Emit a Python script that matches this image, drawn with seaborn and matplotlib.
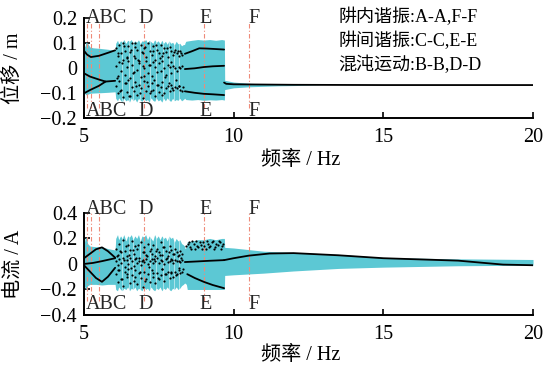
import numpy as np
import pandas as pd
import seaborn as sns
import matplotlib

matplotlib.use("Agg")
import matplotlib.pyplot as plt

# ---- marker frequencies (A..F) ----
mark_f = [5.1, 5.23, 5.5, 7.0, 9.0, 10.5]
label_txt = ["ABC", "D", "E", "F"]
label_f = [5.07, 7.06, 9.07, 10.68]
legend_lines = ["阱内谐振:A-A,F-F", "阱间谐振:C-C,E-E", "混沌运动:B-B,D-D"]

# ---- cyan envelope, displacement ----
disp_f1 = [5.0, 5.04, 5.06, 5.12, 5.2, 5.3, 5.5, 5.8, 6.03]
disp_up1 = [0.085, 0.09, 0.105, 0.1, 0.085, 0.082, 0.08, 0.076, 0.072]
disp_lo1 = [-0.1, -0.102, -0.106, -0.104, -0.1, -0.099, -0.098, -0.096, -0.094]

chaos_f = [6.04, 6.06, 6.12, 6.16, 6.22, 6.28, 6.33, 6.4, 6.46, 6.52, 6.58,
           6.64, 6.7, 6.76, 6.82, 6.88, 6.94, 7.0, 7.06, 7.12, 7.18, 7.24,
           7.3, 7.36, 7.42, 7.48, 7.54, 7.6, 7.66, 7.72, 7.78, 7.84, 7.9,
           7.96, 8.02, 8.08, 8.14, 8.2, 8.26, 8.32, 8.36]
disp_chaos_up = [0.072, 0.1, 0.112, 0.098, 0.11, 0.105, 0.115, 0.1, 0.112,
                 0.108, 0.115, 0.1, 0.11, 0.104, 0.114, 0.1, 0.11, 0.108,
                 0.115, 0.102, 0.112, 0.106, 0.1, 0.114, 0.104, 0.11, 0.098,
                 0.112, 0.1, 0.108, 0.096, 0.11, 0.1, 0.104, 0.094, 0.108,
                 0.098, 0.1, 0.09, 0.095, 0.095]
disp_chaos_lo = [-0.094, -0.12, -0.13, -0.118, -0.128, -0.135, -0.12, -0.13,
                 -0.125, -0.135, -0.118, -0.13, -0.122, -0.135, -0.12, -0.128,
                 -0.132, -0.12, -0.13, -0.125, -0.135, -0.118, -0.128, -0.132,
                 -0.12, -0.13, -0.125, -0.135, -0.12, -0.13, -0.118, -0.128,
                 -0.132, -0.12, -0.13, -0.125, -0.128, -0.12, -0.13, -0.125,
                 -0.12]

disp_f3 = [8.37, 8.4, 8.6, 8.8, 9.0, 9.2, 9.4, 9.6, 9.69]
disp_up3 = [0.1, 0.108, 0.112, 0.115, 0.113, 0.115, 0.112, 0.115, 0.113]
disp_lo3 = [-0.12, -0.125, -0.127, -0.125, -0.128, -0.126, -0.127, -0.125, -0.127]

disp_f4 = [9.7, 10.0, 10.5, 11.0, 11.5, 12.0, 12.5, 13.0, 20.0]
disp_up4 = [-0.048, -0.055, -0.06, -0.062, -0.064, -0.065, -0.066, -0.067, -0.067]
disp_lo4 = [-0.085, -0.078, -0.074, -0.072, -0.07, -0.069, -0.068, -0.067, -0.067]

# ---- cyan envelope, current ----
cur_f1 = [5.0, 5.04, 5.08, 5.12, 5.2, 5.4, 5.6, 5.8, 6.03]
cur_up1 = [0.15, 0.2, 0.21, 0.16, 0.14, 0.135, 0.135, 0.12, 0.11]
cur_lo1 = [-0.16, -0.19, -0.2, -0.17, -0.16, -0.16, -0.165, -0.16, -0.16]

cur_chaos_up = [0.11, 0.2, 0.23, 0.19, 0.22, 0.2, 0.23, 0.18, 0.22, 0.21,
                0.23, 0.19, 0.22, 0.2, 0.23, 0.18, 0.22, 0.21, 0.23, 0.19,
                0.22, 0.2, 0.18, 0.23, 0.2, 0.22, 0.19, 0.22, 0.2, 0.21,
                0.18, 0.22, 0.2, 0.21, 0.17, 0.2, 0.18, 0.19, 0.16, 0.15, 0.14]
cur_chaos_lo = [-0.16, -0.2, -0.21, -0.18, -0.2, -0.21, -0.19, -0.2, -0.18,
                -0.21, -0.19, -0.2, -0.18, -0.21, -0.19, -0.2, -0.21, -0.18,
                -0.2, -0.19, -0.21, -0.18, -0.2, -0.21, -0.19, -0.2, -0.18,
                -0.21, -0.19, -0.2, -0.18, -0.2, -0.21, -0.19, -0.2, -0.18,
                -0.2, -0.19, -0.17, -0.16, -0.15]

cur_f3 = [8.37, 8.42, 8.45, 8.6, 8.8, 9.0, 9.2, 9.4, 9.6, 9.69]
cur_up3 = [0.12, 0.13, 0.175, 0.18, 0.19, 0.19, 0.2, 0.19, 0.2, 0.2]
cur_lo3 = [-0.15, -0.16, -0.2, -0.2, -0.2, -0.2, -0.2, -0.2, -0.2, -0.2]

cur_f4 = [9.7, 10.0, 11.0, 12.0, 13.5, 15.0, 17.5, 20.0]
cur_up4 = [0.13, 0.125, 0.1, 0.09, 0.075, 0.05, 0.04, 0.035]
cur_lo4 = [-0.09, -0.085, -0.072, -0.055, -0.035, -0.025, -0.014, -0.01]

# ---- black branches ----
disp_branches = [
    ([5.0, 5.1, 5.23, 5.5, 5.8, 6.04], [0.07, 0.055, 0.045, 0.05, 0.062, 0.072]),
    ([5.0, 5.2, 5.5, 5.72, 6.04], [-0.02, -0.033, -0.045, -0.053, -0.05]),
    ([5.0, 5.2, 5.5, 5.72], [-0.1, -0.087, -0.07, -0.053]),
    ([8.37, 8.6, 8.85, 9.1, 9.4, 9.68], [0.058, 0.068, 0.08, 0.079, 0.077, 0.075]),
    ([8.37, 8.7, 9.0, 9.3, 9.68], [-0.003, 0.0, 0.005, 0.008, 0.01]),
    ([8.37, 8.7, 9.0, 9.3, 9.68], [-0.092, -0.098, -0.102, -0.104, -0.107]),
    ([9.68, 9.75, 10.0, 12.0, 15.0, 20.0], [-0.057, -0.062, -0.064, -0.066, -0.067, -0.067]),
]
cur_branches = [
    ([5.0, 5.2, 5.4, 5.6, 5.8, 6.04], [0.045, 0.08, 0.115, 0.13, 0.1, 0.05]),
    ([5.0, 5.2, 5.4, 5.6, 5.8, 6.04], [-0.01, -0.06, -0.11, -0.14, -0.1, -0.03]),
    ([5.0, 5.3, 5.6, 6.04], [0.0, 0.008, 0.022, 0.045]),
    ([8.37, 8.8, 9.2, 9.68], [0.015, 0.02, 0.025, 0.03]),
    ([8.45, 8.7, 9.0, 9.3, 9.68], [-0.08, -0.11, -0.14, -0.165, -0.19]),
    ([9.68, 10.0, 10.5, 11.2, 12.0, 13.5, 15.0, 17.5, 19.0, 20.0],
     [0.03, 0.045, 0.065, 0.082, 0.085, 0.068, 0.045, 0.026, -0.005, -0.01]),
]

# ---- chaotic Poincare points ----
dot_f = [6.06, 6.12, 6.18, 6.24, 6.30, 6.36, 6.42, 6.48, 6.54, 6.60, 6.66,
         6.72, 6.78, 6.84, 6.90, 6.96, 7.02, 7.08, 7.14, 7.20, 7.26, 7.32,
         7.38, 7.44, 7.50, 7.56, 7.62, 7.68, 7.74, 7.80, 7.86, 7.92, 7.98,
         8.04, 8.10, 8.16, 8.22, 8.28]
dot_f2 = [6.09, 6.15, 6.21, 6.27, 6.33, 6.39, 6.45, 6.51, 6.57, 6.63, 6.69,
          6.75, 6.81, 6.87, 6.93, 6.99, 7.05, 7.11, 7.17, 7.23, 7.29, 7.35,
          7.41, 7.47, 7.53, 7.59, 7.65, 7.71, 7.77, 7.83, 7.89, 7.95, 8.01,
          8.07, 8.13, 8.19, 8.25, 8.31]
disp_dot_hi = [0.08, 0.05, 0.095, 0.06, 0.1, 0.07, 0.04, 0.09, 0.065, 0.1,
               0.05, 0.085, 0.075, 0.03, 0.095, 0.06, 0.08, 0.045, 0.1, 0.07,
               0.055, 0.09, 0.035, 0.075, 0.06, 0.095, 0.05, 0.08, 0.065,
               0.045, 0.085, 0.07, 0.055, 0.075, 0.06, 0.05, 0.07, 0.055]
disp_dot_mid = [0.01, -0.03, 0.025, -0.01, 0.035, -0.025, 0.005, 0.03, -0.04,
                0.015, -0.015, 0.04, -0.005, 0.02, -0.035, 0.01, 0.0, 0.03,
                -0.02, 0.015, -0.03, 0.025, 0.005, -0.015, 0.02, -0.01, 0.03,
                0.0, -0.025, 0.015, 0.005, -0.02, 0.01, 0.0, -0.01, 0.005, 0.0,
                0.01]
disp_dot_lo = [-0.07, -0.1, -0.05, -0.085, -0.115, -0.06, -0.095, -0.045,
               -0.11, -0.075, -0.09, -0.055, -0.105, -0.065, -0.08, -0.12,
               -0.05, -0.09, -0.07, -0.1, -0.06, -0.085, -0.11, -0.065, -0.095,
               -0.075, -0.055, -0.1, -0.08, -0.07, -0.09, -0.065, -0.085,
               -0.075, -0.08, -0.07, -0.085, -0.09]
disp_dot_x = [-0.04, 0.06, -0.09, 0.02, 0.09, -0.06, 0.045, -0.11, 0.075,
              -0.02, 0.1, -0.07, 0.035, -0.1, 0.065, -0.03, 0.085, -0.055,
              0.015, -0.09, 0.07, -0.045, 0.095, -0.065, 0.04, -0.105, 0.06,
              -0.035, 0.08, -0.06, 0.025, -0.08, 0.065, -0.045, 0.07, -0.07,
              0.06, -0.075]
cur_dot_hi = [0.12, 0.07, 0.16, 0.09, 0.19, 0.1, 0.06, 0.15, 0.11, 0.18, 0.08,
              0.14, 0.12, 0.05, 0.17, 0.09, 0.13, 0.07, 0.16, 0.1, 0.08, 0.15,
              0.06, 0.12, 0.09, 0.17, 0.07, 0.13, 0.1, 0.06, 0.14, 0.11, 0.08,
              0.12, 0.09, 0.07, 0.1, 0.08]
cur_dot_mid = [0.02, -0.01, 0.04, 0.01, 0.05, -0.02, 0.03, 0.0, 0.045, 0.02,
               -0.015, 0.035, 0.01, 0.025, -0.01, 0.03, 0.015, 0.04, 0.0, 0.02,
               0.035, 0.005, 0.025, 0.045, 0.01, 0.03, 0.02, 0.0, 0.04, 0.015,
               0.025, 0.035, 0.01, 0.03, 0.02, 0.025, 0.015, 0.03]
cur_dot_lo = [-0.08, -0.14, -0.05, -0.12, -0.17, -0.06, -0.1, -0.04, -0.15,
              -0.09, -0.13, -0.05, -0.16, -0.07, -0.11, -0.18, -0.06, -0.12,
              -0.08, -0.14, -0.05, -0.1, -0.15, -0.07, -0.12, -0.09, -0.04,
              -0.13, -0.08, -0.06, -0.11, -0.07, -0.1, -0.06, -0.08, -0.05,
              -0.07, -0.06]
cur_dot_x = [0.06, -0.05, 0.1, -0.12, 0.03, 0.14, -0.08, 0.07, -0.03, 0.11,
             -0.1, 0.05, 0.15, -0.06, 0.02, 0.09, -0.13, 0.06, -0.02, 0.12,
             -0.07, 0.04, 0.1, -0.11, 0.07, -0.04, 0.13, -0.08, 0.05, 0.09,
             -0.06, 0.03, 0.08, -0.09, 0.06, -0.03, 0.05, -0.04]
blk_dot_f = [8.42, 8.5, 8.58, 8.66, 8.74, 8.82, 8.9, 8.98, 9.06, 9.14, 9.22,
             9.3, 9.38, 9.46, 9.54, 9.62]
blk_dot_f2 = [8.46, 8.54, 8.62, 8.7, 8.78, 8.86, 8.94, 9.02, 9.1, 9.18, 9.26,
              9.34, 9.42, 9.5, 9.58, 9.66]
cur_blk_dot = [0.14, 0.17, 0.12, 0.16, 0.18, 0.13, 0.15, 0.17, 0.12, 0.16,
               0.14, 0.18, 0.13, 0.15, 0.17, 0.14]
cur_blk_dot2 = [0.16, 0.13, 0.18, 0.12, 0.14, 0.17, 0.12, 0.14, 0.18, 0.13,
                0.17, 0.12, 0.16, 0.18, 0.12, 0.16]

# white streaks inside the chaotic band
gap_f = [6.27, 6.5, 6.63, 6.86, 7.22, 7.41, 7.63, 7.83, 8.0, 8.18]

disp_yticks = [-0.2, -0.1, 0, 0.1, 0.2]
disp_ylabels = ["\u22120.2", "\u22120.1", "0", "0.1", "0.2"]
cur_yticks = [-0.4, -0.2, 0, 0.2, 0.4]
cur_ylabels = ["\u22120.4", "\u22120.2", "0", "0.2", "0.4"]
xticks = [5, 10, 15, 20]

CYAN = "#5cc8d4"
RED = "#ee8a78"

sns.set_theme(style="ticks")
plt.rcParams["font.family"] = ["Liberation Serif", "Noto Sans CJK SC"]
plt.rcParams["axes.unicode_minus"] = True

fig = plt.figure(figsize=(5.44, 3.78), dpi=100)
ax1 = fig.add_axes([0.1544, 0.687, 0.8254, 0.2646])
ax2 = fig.add_axes([0.1544, 0.1667, 0.8254, 0.27])


def draw_panel(ax, segs, chaos_up, chaos_lo, branches, dots, ylim, yt, ytl,
               ylabel, top_y, bot_y, blk_dots=None):
    f_all = segs[0][0] + chaos_f + segs[1][0] + segs[2][0]
    up_all = segs[0][1] + chaos_up + segs[1][1] + segs[2][1]
    lo_all = segs[0][2] + chaos_lo + segs[1][2] + segs[2][2]
    ax.fill_between(f_all, lo_all, up_all, color=CYAN, lw=0, zorder=1)
    ax.vlines(gap_f, ylim[0] * 0.7, ylim[1] * 0.6, color="white", lw=0.5,
              alpha=0.7, zorder=1.5)

    for fx, fy in branches:
        sns.lineplot(x=fx, y=fy, ax=ax, color="black", lw=1.3, zorder=3,
                     estimator=None, sort=False)
    dd = pd.DataFrame({"f": dot_f * 3 + dot_f2,
                       "v": dots[0] + dots[1] + dots[2] + dots[3]})
    sns.scatterplot(data=dd, x="f", y="v", ax=ax, color="black", s=2.5,
                    linewidth=0, zorder=3)
    if blk_dots is not None:
        bd = pd.DataFrame({"f": blk_dot_f + blk_dot_f2,
                           "v": blk_dots[0] + blk_dots[1]})
        sns.scatterplot(data=bd, x="f", y="v", ax=ax, color="black", s=2.5,
                        linewidth=0, zorder=3)

    span = ylim[1] - ylim[0]
    for mf in mark_f:
        ax.plot([mf, mf], [bot_y + 0.04 * span, top_y - 0.04 * span],
                color=RED, lw=0.8, ls=(0, (4, 2, 1, 2)), zorder=2)
    for txt, lf in zip(label_txt, label_f):
        ha = "left" if txt == "ABC" else "center"
        for yy in (top_y, bot_y):
            ax.text(lf, yy, txt, ha=ha, va="center", fontsize=14.5,
                    clip_on=False, zorder=4)

    ax.set_xlim(5, 20)
    ax.set_ylim(*ylim)
    ax.set_xticks(xticks)
    ax.set_xticklabels([str(x) for x in xticks])
    ax.set_yticks(yt)
    ax.set_yticklabels(ytl)
    ax.tick_params(direction="in", length=4, width=1.2, labelsize=14.5,
                   colors="black", pad=5)
    ax.tick_params(axis="x", pad=7)
    for s in ["top", "right"]:
        ax.spines[s].set_visible(False)
    for s in ["left", "bottom"]:
        ax.spines[s].set_linewidth(1.4)
        ax.spines[s].set_color("black")
    ax.set_xlabel("频率 / Hz", fontsize=14.5, color="black")
    ax.set_ylabel(ylabel, fontsize=14.5, color="black")
    ax.yaxis.set_label_coords(-0.135, 0.5)
    ax.set_facecolor("white")


draw_panel(ax1,
           [(disp_f1, disp_up1, disp_lo1), (disp_f3, disp_up3, disp_lo3),
            (disp_f4, disp_up4, disp_lo4)],
           disp_chaos_up, disp_chaos_lo, disp_branches,
           (disp_dot_hi, disp_dot_mid, disp_dot_lo, disp_dot_x),
           (-0.2, 0.2), disp_yticks, disp_ylabels, "位移 / m", 0.2, -0.174)
ax1.xaxis.set_label_coords(0.483, -0.33)

draw_panel(ax2,
           [(cur_f1, cur_up1, cur_lo1), (cur_f3, cur_up3, cur_lo3),
            (cur_f4, cur_up4, cur_lo4)],
           cur_chaos_up, cur_chaos_lo, cur_branches,
           (cur_dot_hi, cur_dot_mid, cur_dot_lo, cur_dot_x),
           (-0.4, 0.4), cur_yticks, cur_ylabels, "电流 / A", 0.43, -0.32,
           blk_dots=(cur_blk_dot, cur_blk_dot2))
ax2.xaxis.set_label_coords(0.483, -0.3)

for i, line in enumerate(legend_lines):
    ax1.text(13.5, 0.205 - i * 0.095, line, ha="left", va="center",
             fontsize=13, color="black", zorder=4)

fig.savefig("out.png", dpi=100)
